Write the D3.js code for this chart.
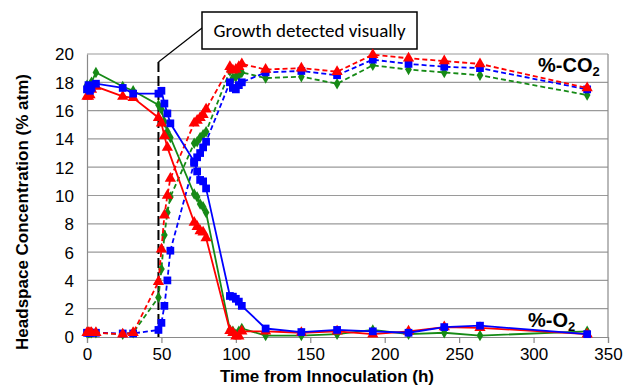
<!DOCTYPE html>
<html>
<head>
<meta charset="utf-8">
<script src="https://cdn.jsdelivr.net/npm/d3@7"></script>
<style>
  body { margin: 0; background: #fff; }
  svg { display: block; font-family: "Liberation Sans", Arial, sans-serif; }
</style>
</head>
<body>
<div id="chart"></div>
<script>
// sampling times (h)
const times = [0, 1, 2, 3, 6, 24, 31, 48, 50, 52, 54, 56, 72, 74, 76, 78, 80,
  96, 98, 100, 102, 104, 120, 144, 168, 192, 216, 240, 264, 336];

// O2 (% atm), solid lines
const redO2 = [17.0, 17.0, 17.1, 17.5, 17.7, 17.0, 16.9, 15.5, 15.1, 14.2, 13.4, null,
  8.1, 7.8, 7.5, 7.4, 7.0, 0.45, 0.3, 0.05, 0.05, 0.4, 0.4, 0.3, 0.4, 0.2, 0.4, 0.7, 0.65, 0.2];
const greenO2 = [17.8, 17.6, 17.8, 18.0, 18.7, 17.7, 17.4, 16.4, 16.1, 15.2, 14.5, 14.1,
  10.1, 9.9, 9.4, 9.2, 8.8, 0.5, 0.4, 0.2, 0.4, 0.6, 0.1, 0.1, 0.2, 0.5, 0.2, 0.3, 0.1, 0.4];
const blueO2 = [17.5, 17.8, 17.4, 17.6, 17.9, 17.6, 17.2, 17.2, 17.4, 16.5, 15.8, 15.1,
  12.4, 11.7, 11.1, 11.0, 10.5, 2.9, 2.85, 2.7, 2.5, 2.2, 0.6, 0.35, 0.5, 0.4, 0.3, 0.7, 0.8, 0.2];

// CO2 (% atm), dashed lines
const redCO2 = [0.3, 0.3, 0.3, 0.3, 0.3, 0.2, 0.3, 3.9, 6.2, 8.6, 10.0, 11.2,
  15.1, 15.3, 15.5, 15.7, 16.1, 19.1, 18.85, 18.9, 19.1, 19.3, 18.9, 19.0, 18.75, 19.95, 19.7, 19.5, 19.3, 17.6];
const greenCO2 = [0.3, 0.3, 0.3, 0.3, 0.3, 0.2, 0.3, 2.8, 4.8, 7.2, 8.8, 9.9,
  13.7, 13.8, 14.1, 14.3, 14.5, 18.8, 18.3, 18.4, 18.5, 18.7, 18.3, 18.4, 17.9, 19.2, 18.9, 18.7, 18.5, 17.1];
const blueCO2 = [0.3, 0.3, 0.3, 0.3, 0.3, 0.25, 0.25, 0.5, 1.0, 2.2, 4.0, 6.1,
  12.3, 12.7, 13.0, 13.4, 13.8, 18.0, 17.6, 17.5, 17.8, 18.0, 18.7, 18.8, 18.5, 19.6, 19.3, 19.1, 19.0, 17.5];

const xTicks = [0, 50, 100, 150, 200, 250, 300, 350];
const yTicks = [0, 2, 4, 6, 8, 10, 12, 14, 16, 18, 20];
const growthTime = 48;

const width = 624, height = 392;
const margin = {top: 54, right: 16, bottom: 55, left: 87};

const svg = d3.select("#chart").append("svg")
    .attr("width", width)
    .attr("height", height);

const x = d3.scaleLinear().domain([0, 350]).range([margin.left, width - margin.right]);
const y = d3.scaleLinear().domain([0, 20]).range([height - margin.bottom, margin.top]);

// horizontal gridlines
svg.append("g")
  .selectAll("line")
  .data(yTicks.filter(d => d > 0))
  .enter().append("line")
    .attr("x1", x(0)).attr("x2", x(350))
    .attr("y1", d => y(d)).attr("y2", d => y(d))
    .attr("stroke", "#9a9a9a")
    .attr("stroke-width", 1.2);

// right border
svg.append("line")
  .attr("x1", x(350)).attr("x2", x(350))
  .attr("y1", y(20)).attr("y2", y(0))
  .attr("stroke", "#8a8a8a").attr("stroke-width", 1.2);

// axes
const xAxis = svg.append("g")
  .attr("transform", `translate(0,${y(0)})`)
  .call(d3.axisBottom(x).tickValues(xTicks).tickSize(6).tickPadding(5));
const yAxis = svg.append("g")
  .attr("transform", `translate(${x(0)},0)`)
  .call(d3.axisLeft(y).tickValues(yTicks).tickSize(0).tickPadding(13));

[xAxis, yAxis].forEach(a => {
  a.select(".domain").attr("stroke", "#8a8a8a").attr("stroke-width", 1.2);
  a.selectAll(".tick line").attr("stroke", "#8a8a8a").attr("stroke-width", 1.2);
  a.selectAll(".tick text")
    .attr("font-size", 17)
    .attr("font-family", "Liberation Sans, Arial, sans-serif")
    .attr("fill", "#000");
});
yAxis.selectAll(".tick text").attr("dy", "0.35em");

// axis titles
svg.append("text")
  .attr("x", 327).attr("y", 382)
  .attr("text-anchor", "middle")
  .attr("font-size", 17).attr("font-weight", "bold")
  .text("Time from Innoculation (h)");

svg.append("text")
  .attr("transform", `translate(28,${212}) rotate(-90)`)
  .attr("text-anchor", "middle")
  .attr("font-size", 17).attr("font-weight", "bold")
  .text("Headspace Concentration (% atm)");

// growth detected line + callout
svg.append("line")
  .attr("x1", x(growthTime)).attr("x2", x(growthTime))
  .attr("y1", 62).attr("y2", y(0))
  .attr("stroke", "#000").attr("stroke-width", 2)
  .attr("stroke-dasharray", "10,4");

svg.append("line")
  .attr("x1", x(growthTime)).attr("y1", 62)
  .attr("x2", 202).attr("y2", 28)
  .attr("stroke", "#000").attr("stroke-width", 1.2);

svg.append("rect")
  .attr("x", 202).attr("y", 12)
  .attr("width", 215).attr("height", 37)
  .attr("fill", "#fff").attr("stroke", "#000").attr("stroke-width", 1.5);

svg.append("text")
  .attr("x", 309.5).attr("y", 37)
  .attr("text-anchor", "middle")
  .attr("font-family", "Calibri, Carlito, 'Open Sans', sans-serif")
  .attr("font-size", 19)
  .text("Growth detected visually");

// series
const series = [
  {vals: greenCO2, color: "#168a16", shape: d3.symbolDiamond, size: 38, dash: "5,3"},
  {vals: blueCO2, color: "#0000ff", shape: d3.symbolSquare, size: 60, dash: "5,3"},
  {vals: redCO2, color: "#ff0000", shape: d3.symbolTriangle, size: 55, dash: "5,3"},
  {vals: greenO2, color: "#168a16", shape: d3.symbolDiamond, size: 38, dash: null},
  {vals: redO2, color: "#ff0000", shape: d3.symbolTriangle, size: 55, dash: null},
  {vals: blueO2, color: "#0000ff", shape: d3.symbolSquare, size: 60, dash: null}
];

const line = d3.line()
  .x(d => x(d.t))
  .y(d => y(d.v));

series.forEach(s => {
  const pts = times.map((t, i) => ({t: t, v: s.vals[i]})).filter(d => d.v != null);
  svg.append("path")
    .datum(pts)
    .attr("d", line)
    .attr("fill", "none")
    .attr("stroke", s.color)
    .attr("stroke-width", 1.8)
    .attr("stroke-dasharray", s.dash);
  svg.append("g")
    .selectAll("path")
    .data(pts)
    .enter().append("path")
      .attr("transform", d => `translate(${x(d.t)},${y(d.v)})`)
      .attr("d", d3.symbol().type(s.shape).size(s.size))
      .attr("fill", s.color);
});

// series labels
const co2 = svg.append("text")
  .attr("x", 538).attr("y", 72)
  .attr("font-size", 20).attr("font-weight", "bold");
co2.append("tspan").text("%-CO");
co2.append("tspan").attr("font-size", 13).attr("dy", 4).text("2");

const o2 = svg.append("text")
  .attr("x", 528).attr("y", 327)
  .attr("font-size", 20).attr("font-weight", "bold");
o2.append("tspan").text("%-O");
o2.append("tspan").attr("font-size", 13).attr("dy", 4).text("2");
</script>
</body>
</html>
